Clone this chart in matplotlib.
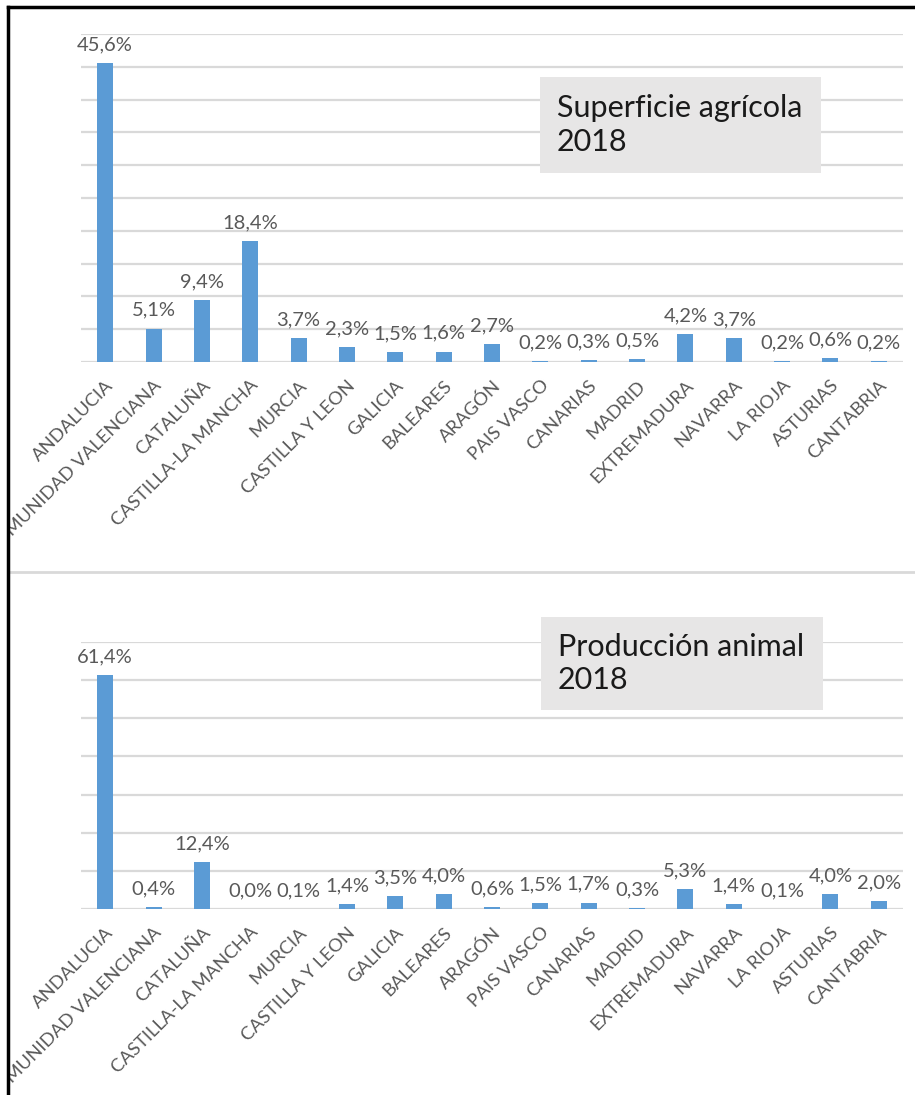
import numpy as np
import matplotlib.pyplot as plt
from matplotlib.patches import Rectangle
from matplotlib.lines import Line2D
from matplotlib.transforms import Bbox

regions = ['ANDALUCIA', 'COMUNIDAD VALENCIANA', 'CATALUÑA', 'CASTILLA-LA MANCHA',
           'MURCIA', 'CASTILLA Y LEON', 'GALICIA', 'BALEARES', 'ARAGÓN',
           'PAIS VASCO', 'CANARIAS', 'MADRID', 'EXTREMADURA', 'NAVARRA',
           'LA RIOJA', 'ASTURIAS', 'CANTABRIA']
superficie = [45.6, 5.1, 9.4, 18.4, 3.7, 2.3, 1.5, 1.6, 2.7,
              0.2, 0.3, 0.5, 4.2, 3.7, 0.2, 0.6, 0.2]
animal = [61.4, 0.4, 12.4, 0.0, 0.1, 1.4, 3.5, 4.0, 0.6,
          1.5, 1.7, 0.3, 5.3, 1.4, 0.1, 4.0, 2.0]

plt.rcParams['font.family'] = ['Lato', 'DejaVu Sans']

W, H = 915, 1095
fig = plt.figure(figsize=(W / 100, H / 100), dpi=100)
BAR = '#5B9BD5'
TXT = '#595959'
GRID = '#D9D9D9'


def fx(px):
    return px / W


def fy(py):
    return 1 - py / H


def panel(rect, values, ymax, step, box, title):
    ax = fig.add_axes(rect)
    x = np.arange(len(regions))
    ax.bar(x, values, width=0.33, color=BAR, zorder=2)
    ax.set_xlim(-0.5, len(regions) - 0.5)
    ax.set_ylim(0, ymax)
    ax.set_yticks(np.arange(0, ymax + step / 2, step))
    ax.yaxis.grid(True, color=GRID, lw=1.6, zorder=0)
    ax.tick_params(axis='y', left=False, labelleft=False)
    ax.tick_params(axis='x', length=0, pad=11)
    for s in ax.spines.values():
        s.set_visible(False)
    ax.set_xticks(x)
    ax.set_xticklabels(regions, rotation=45, ha='right', rotation_mode='anchor',
                       fontsize=13.3, color=TXT)
    # the screenshot is cut at its left border
    clip = Bbox.from_extents(10, 0, W, H)
    for lab in ax.get_xticklabels():
        lab.set_clip_on(True)
        lab.set_clip_box(clip)
    for xi, v in zip(x, values):
        ax.annotate(f'{v:.1f}%'.replace('.', ','), (xi, v), xytext=(0, 7),
                    textcoords='offset points', ha='center', va='bottom',
                    fontsize=14.5, color=TXT)
    # title box
    x0, y0, x1, y1 = box
    fig.add_artist(Rectangle((fx(x0), fy(y1)), fx(x1) - fx(x0), fy(y0) - fy(y1),
                             transform=fig.transFigure, facecolor='#E7E6E6',
                             edgecolor='none', zorder=5))
    fig.text(fx(x0 + 17), (fy(y0) + fy(y1)) / 2, title, ha='left', va='center',
             fontsize=22, color='#1A1A1A', linespacing=1.25, zorder=6)
    return ax


panel([fx(81), fy(362), fx(903) - fx(81), fy(34) - fy(362)],
      superficie, 50, 5, (540, 77, 821, 173), 'Superficie agrícola\n2018')
panel([fx(81), fy(909), fx(903) - fx(81), fy(642) - fy(909)],
      animal, 70, 10, (541, 617, 823, 710), 'Producción animal\n2018')

# frame and divider
fig.add_artist(Line2D([fx(8), 1], [fy(572), fy(572)], color=GRID, lw=2,
                      transform=fig.transFigure))
fig.add_artist(Line2D([fx(8), 1], [fy(7), fy(7)], color='black', lw=2.5,
                      transform=fig.transFigure))
fig.add_artist(Line2D([fx(8), fx(8)], [fy(7), 0], color='black', lw=2.5,
                      transform=fig.transFigure))

fig.savefig('out.png', dpi=100)
